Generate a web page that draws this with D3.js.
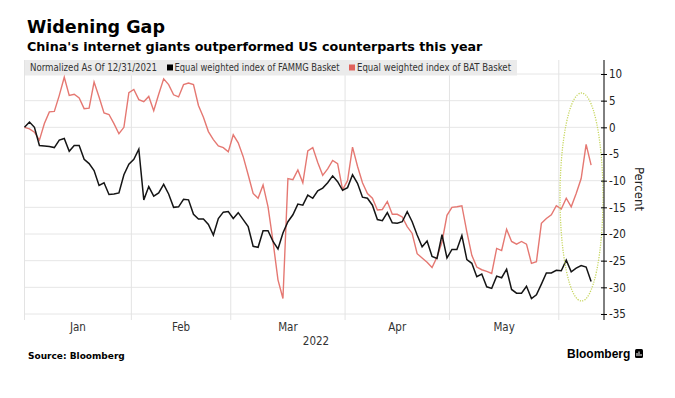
<!DOCTYPE html>
<html>
<head>
<meta charset="utf-8">
<script src="https://cdn.jsdelivr.net/npm/d3@7"></script>
<style>
  body { margin: 0; background: #fff; }
  svg { display: block; }
  .narrow { font-family: "Liberation Sans Narrow", "Arial Narrow", "DejaVu Sans Condensed", sans-serif; }
  .heavy { font-family: "DejaVu Sans", sans-serif; font-weight: bold; }
</style>
</head>
<body>
<div id="chart"></div>
<script>
const width = 675;
const height = 398;

// one value per weekday, index 0 = 12/31/2021
const famm = [0, 1.0, 0, -3.4, -3.5, -3.6, -3.8, -2.4, -2.1, -4.5,
  -3.4, -3.4, -6.0, -6.8, -8.1, -10.9, -10.4, -12.6, -12.5, -12.3,
  -8.9, -6.9, -6.0, -4.1, -13.6, -11.1, -12.9, -12.3, -10.7, -12.5,
  -15.0, -14.9, -13.5, -13.6, -16.3, -17.2, -17.2, -18.2, -20.2, -17.1,
  -15.9, -15.8, -17.1, -16.0, -17.3, -18.6, -22.3, -22.5, -19.4, -19.4,
  -21.4, -22.8, -19.8, -17.7, -16.4, -14.4, -14.6, -12.7, -13.3, -11.9,
  -11.4, -10.4, -9.1, -10.2, -11.8, -11.3, -8.9, -10.5, -13.1, -13.3,
  -14.6, -17.3, -17.5, -16.0, -17.9, -18.0, -17.7, -15.8, -17.7, -20.2,
  -22.4, -21.3, -24.2, -24.6, -20.1, -24.5, -22.9, -22.9, -20.3, -24.8,
  -25.5, -28.0, -27.5, -29.9, -30.2, -27.9, -28.2, -26.6, -30.4, -31.1,
  -31.1, -29.8, -32.1, -31.4, -29.4, -27.3, -27.3, -26.8, -26.9, -24.9,
  -27.1, -26.4, -25.9, -26.2, -28.9];

const bat = [0, -0.3, -0.9, -2.4, 0.7, 2.9, 3.0, 6.0, 9.4, 6.0,
  6.2, 5.5, 3.5, 3.6, 8.5, 5.7, 2.7, 2.4, 0.7, -1.2,
  0, 6.5, 7.1, 5.2, 4.8, 5.8, 3.1, 6.2, 9.1, 8.0,
  6.1, 5.7, 8.0, 8.3, 8.0, 4.1, 1.9, -0.8, -2.3, -3.5,
  -3.8, -4.6, -1.4, -2.9, -5.5, -8.9, -12.4, -13.3, -10.8, -14.9,
  -21.4, -28.6, -32.1, -9.6, -9.8, -8.0, -10.4, -4.4, -3.8, -6.6,
  -9.0, -7.8, -6.2, -6.8, -11.7, -10.0, -3.7, -7.3, -10.4, -12.4,
  -13.3, -15.5, -15.4, -13.9, -16.3, -16.3, -16.8, -18.6, -19.9, -23.7,
  -24.5, -25.3, -26.3, -24.3, -21.5, -16.5, -15.0, -14.9, -14.7, -19.6,
  -24.0, -26.2, -26.7, -27.0, -27.4, -22.7, -23.1, -19.1, -21.4, -21.9,
  -21.4, -21.9, -25.5, -25.2, -18.0, -17.1, -16.4, -14.7, -15.3, -13.3,
  -14.9, -12.4, -9.6, -3.2, -7.1];

const months = ['Jan', 'Feb', 'Mar', 'Apr', 'May'];
const monthStart = [1, 22, 42, 65, 86, 108];   // weekday index of the 1st trading day
const yTicks = [10, 5, 0, -5, -10, -15, -20, -25, -30, -35];

const plot = {left: 24.5, right: 604, top: 60, bottom: 320};

const x = d3.scaleLinear().domain([0, 114]).range([plot.left, 591.1]);
const y = d3.scaleLinear().domain([-35, 10]).range([314, 74]);

const svg = d3.select('#chart').append('svg')
  .attr('width', width).attr('height', height);

// titles
svg.append('text').attr('class', 'heavy')
  .attr('x', 27).attr('y', 33).style('font-size', '17.5px').attr('fill', '#000')
  .text('Widening Gap');
svg.append('text').attr('class', 'heavy')
  .attr('x', 27).attr('y', 50.5).style('font-size', '12.7px').attr('fill', '#000')
  .text("China's internet giants outperformed US counterparts this year");

// grid
const bounds = [0].concat(monthStart.slice(1).map(d => d - 0.5));
svg.append('g').selectAll('line').data(yTicks).enter().append('line')
  .attr('x1', plot.left).attr('x2', plot.right)
  .attr('y1', d => y(d)).attr('y2', d => y(d))
  .style('stroke', '#e6e6e6');
svg.append('g').selectAll('line').data(bounds).enter().append('line')
  .attr('x1', d => x(d)).attr('x2', d => x(d))
  .attr('y1', plot.top).attr('y2', plot.bottom)
  .style('stroke', '#e3e3e3');

// legend strip
const legend = svg.append('g').attr('class', 'narrow').style('font-size', '10.5px');
legend.append('rect').attr('x', 25).attr('y', 60).attr('width', 492).attr('height', 15.5)
  .attr('fill', '#ebebeb');
legend.append('text').attr('x', 30).attr('y', 71).attr('fill', '#333')
  .attr('textLength', 127).attr('lengthAdjust', 'spacingAndGlyphs')
  .text('Normalized As Of 12/31/2021');
legend.append('rect').attr('x', 167).attr('y', 64.5).attr('width', 6).attr('height', 6).attr('fill', '#000');
legend.append('text').attr('x', 174.5).attr('y', 71).attr('fill', '#333')
  .attr('textLength', 165).attr('lengthAdjust', 'spacingAndGlyphs')
  .text('Equal weighted index of FAMMG Basket');
legend.append('rect').attr('x', 349).attr('y', 64.5).attr('width', 6).attr('height', 6).attr('fill', '#e0625c');
legend.append('text').attr('x', 357).attr('y', 71).attr('fill', '#333')
  .attr('textLength', 154).attr('lengthAdjust', 'spacingAndGlyphs')
  .text('Equal weighted index of BAT Basket');

// lines
const line = d3.line().x((d, i) => x(i)).y(d => y(d));
svg.append('path').datum(bat)
  .attr('fill', 'none').attr('stroke', '#e57872').attr('stroke-width', 1.4)
  .attr('d', line);
svg.append('path').datum(famm)
  .attr('fill', 'none').attr('stroke', '#151515').attr('stroke-width', 1.5)
  .attr('d', line);

// highlight ellipse
svg.append('ellipse')
  .attr('cx', 581.5).attr('cy', 197).attr('rx', 21.5).attr('ry', 104)
  .attr('fill', 'none').attr('stroke', '#c6d65e').attr('stroke-width', 1.3)
  .attr('stroke-dasharray', '1.2 1.3');

// y axis on the right
const yAxis = g => g
  .attr('transform', `translate(${plot.right}, 0)`)
  .call(d3.axisRight(y).tickValues(yTicks).tickFormat(d => String(d)).tickSize(3))
  .call(g => g.select('.domain').attr('d', `M0,${plot.top}V${plot.bottom}`).attr('stroke', '#000'))
  .call(g => g.selectAll('.tick line').attr('x1', -3).attr('stroke', '#000'))
  .call(g => g.selectAll('.tick text').attr('x', 5)
    .attr('class', 'narrow').style('font-size', '11.5px').attr('fill', '#222'));
svg.append('g').call(yAxis).attr('font-family', null);

svg.append('text').attr('class', 'narrow')
  .attr('transform', 'translate(635,189) rotate(90)')
  .attr('text-anchor', 'middle').style('font-size', '13px').attr('fill', '#222')
  .text('Percent');

// month labels
svg.append('g').attr('class', 'narrow').style('font-size', '11.5px')
  .selectAll('text').data(months).enter().append('text')
  .attr('x', (d, i) => (x(bounds[i]) + x(bounds[i + 1])) / 2)
  .attr('y', 331).attr('text-anchor', 'middle').attr('fill', '#333')
  .text(d => d);
svg.append('text').attr('class', 'narrow').style('font-size', '11.5px')
  .attr('x', 316).attr('y', 345).attr('text-anchor', 'middle').attr('fill', '#333')
  .text('2022');

// footer
svg.append('text').attr('class', 'heavy').style('font-size', '9px')
  .attr('x', 28).attr('y', 359).attr('fill', '#000')
  .text('Source: Bloomberg');
svg.append('text')
  .style('font-family', '"Liberation Sans", Arial, sans-serif').style('font-weight', 'bold')
  .style('font-size', '12px').attr('x', 567).attr('y', 358).attr('fill', '#000')
  .text('Bloomberg');
const logo = svg.append('g').attr('transform', 'translate(635,349)');
logo.append('rect').attr('width', 8).attr('height', 9).attr('rx', 1.5).attr('fill', '#000');
logo.append('path').attr('d', 'M2,7V4M4,7V2.5M6,7V5').attr('stroke', '#fff').attr('stroke-width', 1);
</script>
</body>
</html>
